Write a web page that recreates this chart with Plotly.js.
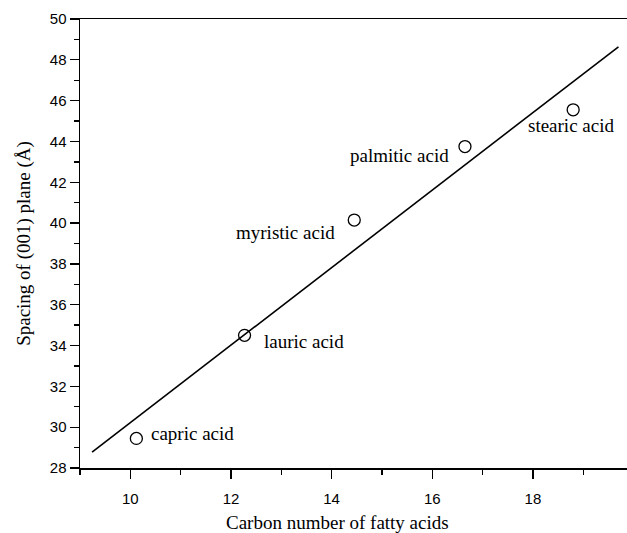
<!DOCTYPE html>
<html>
<head>
<meta charset="utf-8">
<script src="https://cdn.plot.ly/plotly-3.0.1.min.js"></script>
<style>html,body{margin:0;padding:0;background:#fff;}#chart{width:627px;height:533px;}</style>
</head>
<body>
<div id="chart"></div>
<script>
const carbonNumbers = [10.12, 12.27, 14.45, 16.65, 18.8];
const spacing = [29.45, 34.5, 40.15, 43.75, 45.55];
const acidNames = ["capric acid", "lauric acid", "myristic acid", "palmitic acid", "stearic acid"];
const labelX = [10.37, 12.61, 14.1, 16.38, 18.75];
const labelY = [29.7, 34.22, 39.54, 43.3, 44.8];
const labelAnchor = ["left", "left", "right", "right", "center"];
const fitX = [9.24, 19.7];
const fitY = [28.78, 48.64];
const xTicks = [10, 12, 14, 16, 18];
const yTicks = [28, 30, 32, 34, 36, 38, 40, 42, 44, 46, 48, 50];
const xTitle = "Carbon number of fatty acids";
const yTitle = "Spacing of (001) plane (Å)";

const serif = "Liberation Serif, Times New Roman, serif";
const sans = "Liberation Sans, Arial, sans-serif";

const traces = [
  {x: fitX, y: fitY, mode: "lines", line: {color: "#000", width: 1.6}, hoverinfo: "skip"},
  {x: carbonNumbers, y: spacing, mode: "markers",
   marker: {symbol: "circle-open", size: 12, color: "#000", line: {width: 1.3, color: "#000"}}}
];

const annotations = acidNames.map((n, i) => ({
  x: labelX[i], y: labelY[i], text: n, showarrow: false,
  xanchor: labelAnchor[i], yanchor: "middle",
  font: {family: serif, size: 19, color: "#000"}
}));
annotations.push({
  xref: "paper", yref: "paper", x: 0.47, y: 0, yshift: -54,
  xanchor: "center", yanchor: "middle", showarrow: false, text: xTitle,
  font: {family: serif, size: 19, color: "#000"}
});

const layout = {
  width: 627, height: 533,
  margin: {l: 80, r: 0, t: 19, b: 65},
  showlegend: false,
  paper_bgcolor: "#fff", plot_bgcolor: "#fff",
  xaxis: {
    range: [9, 19.87], tickvals: xTicks, ticktext: xTicks.map(String),
    showgrid: false, zeroline: false, showline: true, linecolor: "#000", linewidth: 1.5,
    mirror: true, ticks: "outside", ticklen: 9, tickwidth: 1.3, tickcolor: "#000",
    ticklabelstandoff: 7,
    minor: {dtick: 1, tick0: 9, ticks: "outside", ticklen: 5, tickwidth: 1.3, tickcolor: "#000"},
    tickfont: {family: sans, size: 15, color: "#000"}
  },
  yaxis: {
    range: [28, 50], tickvals: yTicks, ticktext: yTicks.map(String),
    showgrid: false, zeroline: false, showline: true, linecolor: "#000", linewidth: 1.5,
    mirror: false, ticks: "outside", ticklen: 9, tickwidth: 1.3, tickcolor: "#000",
    ticklabelstandoff: 0,
    minor: {dtick: 1, tick0: 29, ticks: "outside", ticklen: 5, tickwidth: 1.3, tickcolor: "#000"},
    tickfont: {family: sans, size: 15, color: "#000"},
    title: {text: yTitle, font: {family: serif, size: 19, color: "#000"}, standoff: 14}
  },
  annotations: annotations
};

Plotly.newPlot("chart", traces, layout, {displayModeBar: false, staticPlot: true});
</script>
</body>
</html>
